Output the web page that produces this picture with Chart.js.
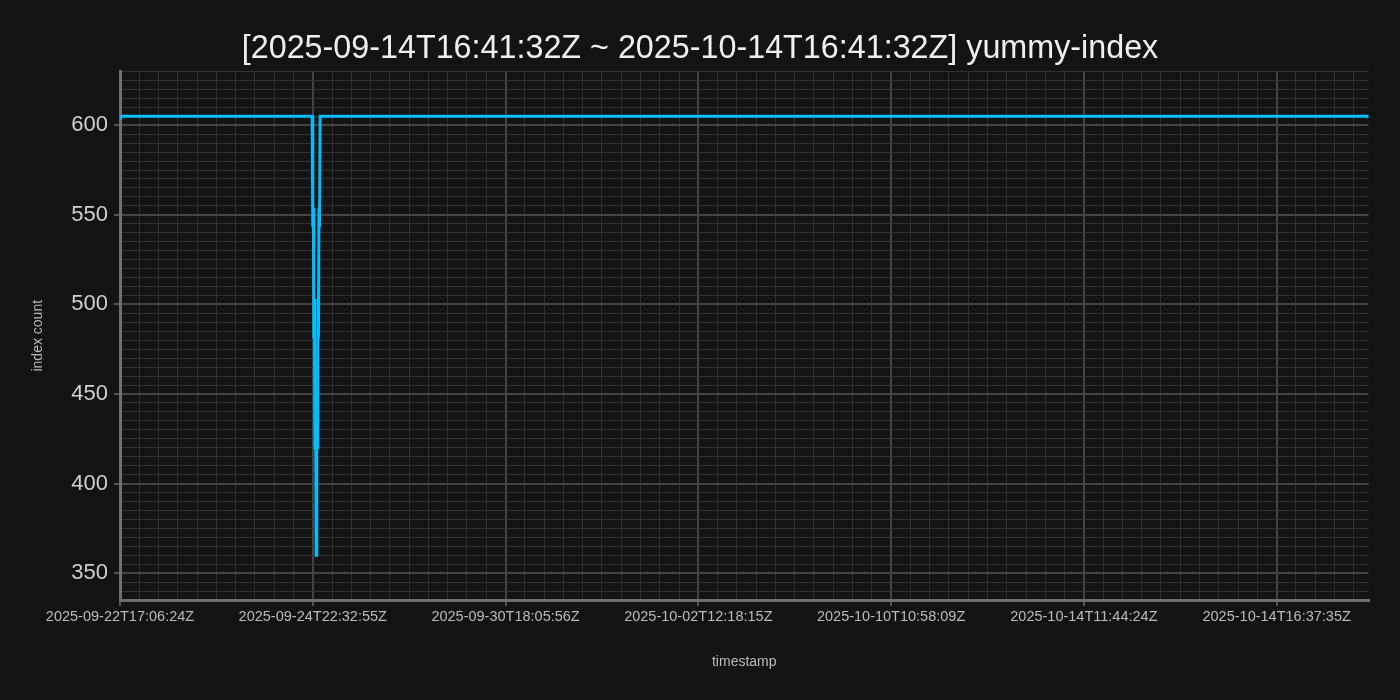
<!DOCTYPE html>
<html>
<head>
<meta charset="utf-8">
<script src="https://cdn.jsdelivr.net/npm/chart.js@4"></script>
<style>
  html, body { margin: 0; padding: 0; background: #131313; }
  #wrap { width: 1400px; height: 700px; }
</style>
</head>
<body>
<div id="wrap"><canvas id="c" width="1400" height="700"></canvas></div>
<script>
// ---- data ----
const chartTitle = '[2025-09-14T16:41:32Z ~ 2025-10-14T16:41:32Z] yummy-index';
const xAxisTitle = 'timestamp';
const yAxisTitle = 'index count';
const tickLabels = [
  '2025-09-22T17:06:24Z',
  '2025-09-24T22:32:55Z',
  '2025-09-30T18:05:56Z',
  '2025-10-02T12:18:15Z',
  '2025-10-10T10:58:09Z',
  '2025-10-14T11:44:24Z',
  '2025-10-14T16:37:35Z'
];
const samplesPerLabel = 340;   // samples between labelled timestamps
const lastSample = 2202;       // index of final sample
// sample index where the value changes, and the index count at that sample
const sampleIndex = [0, 1, 339, 340, 341, 342, 343, 344, 345, 346, 347, 348, 349, 350, 351, 352, 353, 2201, 2202];
const indexCount  = [604, 605, 605, 543, 554, 481, 503, 420, 450, 360, 450, 420, 503, 481, 554, 543, 605, 605, 604];
const yMin = 335, yMax = 630, yMajorStep = 50, yMinorStep = 5;
const xMinorDiv = 10;

// ---- chart ----
Chart.defaults.font.family = '"Liberation Sans", Arial, sans-serif';

const bgPlugin = {
  id: 'bg',
  beforeDraw(chart) {
    const c = chart.ctx;
    c.save();
    c.fillStyle = '#131313';
    c.fillRect(0, 0, chart.width, chart.height);
    c.restore();
  }
};

const xStep = samplesPerLabel / xMinorDiv;
const xTickValues = [];
for (let v = 0; v <= lastSample; v += xStep) xTickValues.push(v);
const yTickValues = [];
for (let v = yMin; v <= yMax; v += yMinorStep) yTickValues.push(v);

const isXMajor = v => v % samplesPerLabel === 0;
const isYMajor = v => v % yMajorStep === 0;

const gridFor = isMajor => ({
  color: ctx => (ctx.tick && isMajor(ctx.tick.value)) ? '#444444' : '#323232',
  lineWidth: ctx => (ctx.tick && isMajor(ctx.tick.value)) ? 2 : 1,
  tickColor: ctx => (ctx.tick && isMajor(ctx.tick.value)) ? '#555555' : 'rgba(0,0,0,0)',
  tickWidth: 2,
  tickLength: 6
});

new Chart(document.getElementById('c'), {
  type: 'line',
  data: {
    datasets: [{
      data: sampleIndex.map((x, i) => ({ x: x, y: indexCount[i] })),
      borderColor: '#00bfff',
      backgroundColor: '#00bfff',
      borderWidth: 3,
      pointRadius: 0,
      tension: 0,
      fill: false
    }]
  },
  options: {
    responsive: false,
    animation: false,
    devicePixelRatio: 1,
    layout: { padding: 0 },
    plugins: {
      legend: { display: false },
      tooltip: { enabled: false },
      title: {
        display: true,
        text: chartTitle,
        color: '#f0f0f0',
        font: { size: 32.3, weight: 'normal', lineHeight: 1.2 },
        padding: { top: 30, bottom: 2.74 }
      }
    },
    scales: {
      x: {
        type: 'linear',
        min: 0,
        max: lastSample,
        afterBuildTicks: s => { s.ticks = xTickValues.map(v => ({ value: v })); },
        afterFit: s => { s.height = 100; },
        ticks: {
          autoSkip: false, maxRotation: 0, minRotation: 0, padding: 2,
          color: '#bbbbbb', font: { size: 14.5 },
          callback: v => isXMajor(v) ? tickLabels[v / samplesPerLabel] : ''
        },
        grid: gridFor(isXMajor),
        border: { color: '#6e6e6e', width: 3 },
        title: { display: true, text: xAxisTitle, color: '#bbbbbb', font: { size: 14 }, padding: { top: 4, bottom: 29 } }
      },
      y: {
        type: 'linear',
        min: yMin,
        max: yMax,
        afterBuildTicks: s => { s.ticks = yTickValues.map(v => ({ value: v })); },
        afterFit: s => { s.width = 120; },
        ticks: {
          autoSkip: false, padding: 6,
          color: '#d0d0d0', font: { size: 22 },
          callback: v => isYMajor(v) ? String(v) : ''
        },
        grid: gridFor(isYMajor),
        border: { color: '#6e6e6e', width: 3 },
        title: { display: true, text: yAxisTitle, color: '#bbbbbb', font: { size: 14 }, padding: { top: 29.5, bottom: 4 } }
      },
      yRightSpace: {
        type: 'linear',
        position: 'right',
        display: true,
        afterFit: s => { s.width = 31.5; },
        ticks: { display: false },
        grid: { display: false, drawOnChartArea: false, drawTicks: false },
        border: { display: false },
        title: { display: false }
      }
    }
  },
  plugins: [bgPlugin]
});
</script>
</body>
</html>
